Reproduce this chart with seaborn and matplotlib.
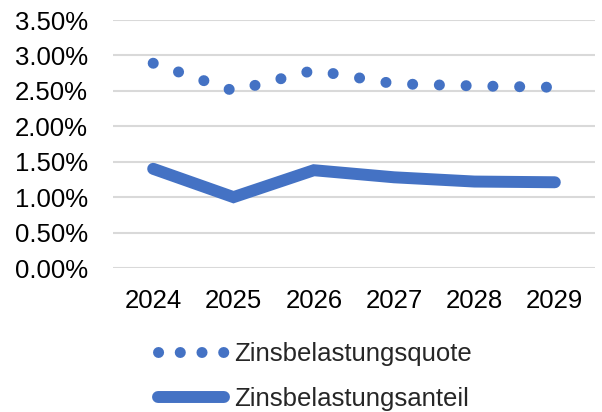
import seaborn as sns
import pandas as pd
import matplotlib.pyplot as plt
from matplotlib.ticker import PercentFormatter

years = [2024, 2025, 2026, 2027, 2028, 2029]
quote = [2.89, 2.50, 2.79, 2.60, 2.57, 2.55]
anteil = [1.40, 1.00, 1.38, 1.28, 1.22, 1.21]

sns.set_style("white")
plt.rcParams['font.family'] = ['Liberation Sans', 'DejaVu Sans']

blue = "#4472C4"
df = pd.DataFrame({"Jahr": years, "Zinsbelastungsquote": quote, "Zinsbelastungsanteil": anteil})

fig = plt.figure(figsize=(6.02, 4.12), dpi=100)
ax = fig.add_axes([113 / 602, 1 - 268 / 412, 482 / 602, 248 / 412])

sns.lineplot(data=df, x="Jahr", y="Zinsbelastungsquote", ax=ax, color=blue,
             linewidth=7.9, linestyle=(0, (0.01, 2.43)), dash_capstyle="round",
             label="Zinsbelastungsquote", legend=False)
sns.lineplot(data=df, x="Jahr", y="Zinsbelastungsanteil", ax=ax, color=blue,
             linewidth=8.6, solid_capstyle="round", solid_joinstyle="miter",
             label="Zinsbelastungsanteil", legend=False)

ax.set_xlim(2023.5, 2029.5)
ax.set_ylim(0, 3.5)
ax.set_yticks([0, 0.5, 1.0, 1.5, 2.0, 2.5, 3.0, 3.5])
ax.yaxis.set_major_formatter(PercentFormatter(decimals=2))
ax.set_xticks(years)
ax.set_xticklabels([str(y) for y in years])
ax.set_xlabel("")
ax.set_ylabel("")
ax.grid(axis="y", color="#d9d9d9", linewidth=1.5)
ax.set_axisbelow(True)
for s in ax.spines.values():
    s.set_visible(False)
ax.tick_params(axis="both", labelsize=18.5, length=0, colors="black")
ax.tick_params(axis="x", pad=15)
ax.tick_params(axis="y", pad=18)

handles, labels = ax.get_legend_handles_labels()
leg = fig.legend(handles, labels, loc="upper left", bbox_to_anchor=(158 / 602, 1 - 342 / 412),
                 frameon=False, fontsize=18.5, handlelength=2.55, handletextpad=0.4,
                 labelspacing=0.8, borderaxespad=0, borderpad=0)
leg.get_lines()[0].set_linestyle((0, (0.01, 1.97)))

fig.savefig("out.png", dpi=100)
